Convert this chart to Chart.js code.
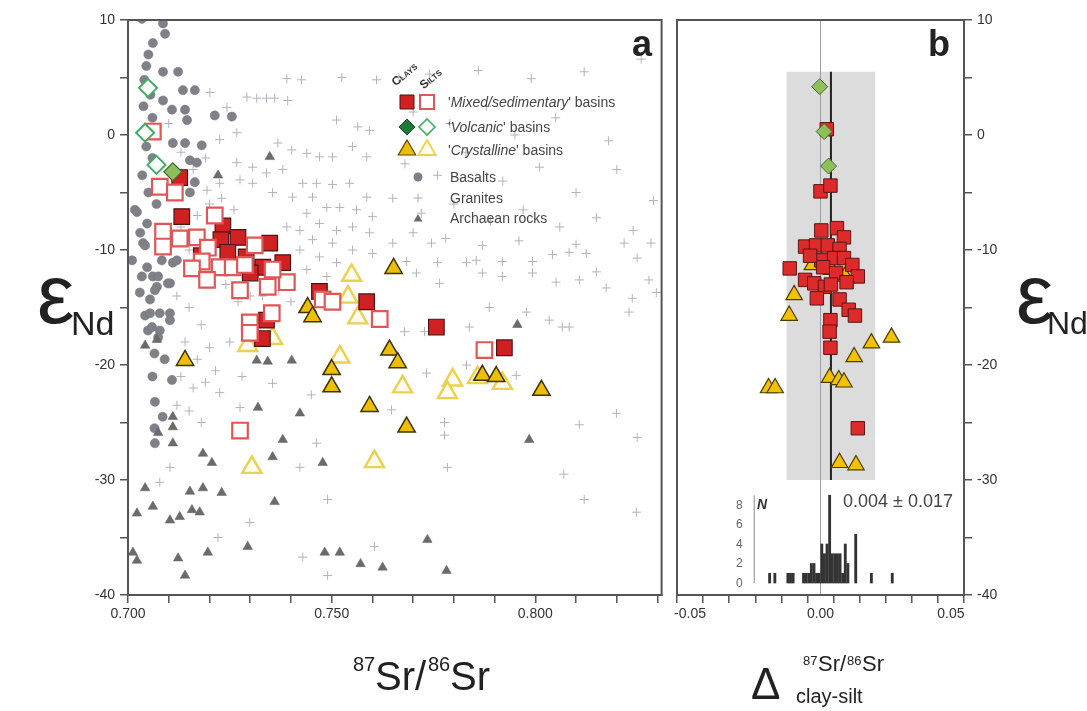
<!DOCTYPE html>
<html><head><meta charset="utf-8">
<script src="https://cdn.jsdelivr.net/npm/chart.js@4.4.1/dist/chart.umd.min.js"></script>
<style>
html,body{margin:0;padding:0;background:#fff;}
body{width:1087px;height:711px;position:relative;overflow:hidden;font-family:"Liberation Sans",Arial,sans-serif;}
canvas{position:absolute;top:0;}
#ca{left:0;width:670px;height:711px;}
#cb{left:630px;width:457px;height:711px;}
.t{position:absolute;white-space:nowrap;line-height:1;color:#333;}
.lg{font-size:14px;color:#444;}
.it{font-style:italic;}
.rot{font-size:12px;font-weight:bold;font-variant:small-caps;transform:rotate(-40deg);transform-origin:0 100%;color:#333;}
</style></head><body>
<canvas id="ca" width="670" height="711"></canvas>
<canvas id="cb" width="457" height="711"></canvas>

<div class="t" style="left:632px;top:26px;font-size:36px;font-weight:bold;color:#222;">a</div>
<div class="t" style="left:928px;top:26px;font-size:36px;font-weight:bold;color:#222;">b</div>

<div class="t rot" style="left:397px;top:76px;">Clays</div>
<div class="t rot" style="left:425px;top:79px;">Silts</div>
<div class="t lg" style="left:448px;top:95px;">'<span class="it">Mixed/sedimentary</span>' basins</div>
<div class="t lg" style="left:448px;top:120px;">'<span class="it">Volcanic</span>' basins</div>
<div class="t lg" style="left:448px;top:143px;">'<span class="it">Crystalline</span>' basins</div>
<div class="t lg" style="left:450px;top:170px;">Basalts</div>
<div class="t lg" style="left:450px;top:191px;">Granites</div>
<div class="t lg" style="left:450px;top:211px;">Archaean rocks</div>

<div class="t" style="left:37px;top:252px;font-size:84px;color:#222;">ε</div>
<div class="t" style="left:71px;top:306px;font-size:34px;color:#222;">Nd</div>
<div class="t" style="left:1016px;top:252px;font-size:84px;color:#222;">ε</div>
<div class="t" style="left:1047px;top:307px;font-size:32px;color:#222;">Nd</div>

<div class="t" style="left:353px;top:654px;font-size:20px;color:#222;">87</div>
<div class="t" style="left:375px;top:656px;font-size:40px;color:#222;">Sr/</div>
<div class="t" style="left:428px;top:654px;font-size:20px;color:#222;">86</div>
<div class="t" style="left:450px;top:656px;font-size:40px;color:#222;">Sr</div>

<div class="t" style="left:751px;top:662px;font-size:44px;color:#222;">Δ</div>
<div class="t" style="left:803px;top:654px;font-size:13px;color:#222;">87</div>
<div class="t" style="left:818px;top:653px;font-size:22px;color:#222;">Sr/</div>
<div class="t" style="left:847px;top:654px;font-size:13px;color:#222;">86</div>
<div class="t" style="left:862px;top:653px;font-size:22px;color:#222;">Sr</div>
<div class="t" style="left:796px;top:686px;font-size:20px;color:#222;">clay-silt</div>

<div class="t" style="left:843px;top:492px;font-size:18px;color:#444;">0.004 ± 0.017</div>
<div class="t" style="left:757px;top:497px;font-size:14px;font-weight:bold;font-style:italic;color:#333;">N</div>
<div class="t" style="left:736px;top:499px;font-size:12px;color:#666;">8</div>
<div class="t" style="left:736px;top:518px;font-size:12px;color:#666;">6</div>
<div class="t" style="left:736px;top:538px;font-size:12px;color:#666;">4</div>
<div class="t" style="left:736px;top:557px;font-size:12px;color:#666;">2</div>
<div class="t" style="left:736px;top:577px;font-size:12px;color:#666;">0</div>

<script>
// ---------- Panel a data (87Sr/86Sr vs eNd) ----------
const sedClays = [[0.7127,-3.7],[0.7132,-7.1],[0.7233,-7.9],[0.7228,-9.1],[0.7270,-8.9],[0.7348,-9.4],[0.7331,-11.5],[0.7380,-11.1],[0.7290,-10.6],[0.7245,-10.2],[0.7300,-12.0],[0.7470,-13.6],[0.7586,-14.5],[0.7757,-16.7],[0.7924,-18.5],[0.7340,-16.1],[0.7330,-17.7],[0.7180,-10.5]];
const sedSilts = [[0.7061,0.3],[0.7078,-4.5],[0.7115,-5.0],[0.7213,-7.0],[0.7086,-8.4],[0.7086,-9.7],[0.7127,-9.0],[0.7169,-8.9],[0.7196,-9.8],[0.7311,-9.6],[0.7181,-11.0],[0.7225,-11.5],[0.7257,-11.5],[0.7287,-11.3],[0.7157,-11.6],[0.7194,-12.6],[0.7275,-13.5],[0.7343,-13.2],[0.7390,-12.8],[0.7355,-11.7],[0.7478,-14.3],[0.7502,-14.5],[0.7618,-16.0],[0.7875,-18.7],[0.7353,-15.5],[0.7299,-16.3],[0.7299,-17.2],[0.7275,-25.7]];
const volcClays = [[0.7110,-3.2]];
const volcSilts = [[0.7049,4.1],[0.7042,0.2],[0.7070,-2.6]];
const crysClays = [[0.7140,-19.6],[0.7652,-11.6],[0.7441,-15.0],[0.7453,-15.8],[0.7642,-18.7],[0.7662,-19.8],[0.7500,-20.4],[0.7500,-21.9],[0.7593,-23.6],[0.7684,-25.4],[0.7870,-20.9],[0.7904,-21.0],[0.8015,-22.2]];
const crysSilts = [[0.7549,-12.2],[0.7540,-14.1],[0.7564,-15.9],[0.7520,-19.3],[0.7674,-21.9],[0.7797,-21.3],[0.7784,-22.4],[0.7858,-21.1],[0.7919,-21.6],[0.7605,-28.4],[0.7304,-28.9],[0.7355,-17.7],[0.7294,-18.3]];
const basalts = [[0.7034,10.1],[0.7086,9.7],[0.7091,8.8],[0.7061,8.0],[0.7050,7.0],[0.7086,5.5],[0.7123,5.5],[0.7135,3.9],[0.7164,3.9],[0.7213,1.7],[0.7255,1.6],[0.7086,3.0],[0.7108,2.2],[0.7140,2.2],[0.7145,1.3],[0.7110,-0.7],[0.7140,-0.7],[0.7181,-0.9],[0.7152,-2.2],[0.7169,-2.4],[0.7164,-4.1],[0.7152,-5.0],[0.7017,-6.5],[0.7047,-7.7],[0.7037,-9.4],[0.7047,-11.5],[0.7110,-11.1],[0.7061,-12.3],[0.7071,-13.2],[0.7103,-12.9],[0.7029,-13.7],[0.7054,-14.3],[0.7042,-15.7],[0.7078,-15.5],[0.7103,-15.5],[0.7049,-17.0],[0.7078,-17.0],[0.7108,-21.3],[0.7066,-23.2],[0.7066,-26.8],[0.7022,-6.7],[0.7042,-9.6],[0.7120,-10.9],[0.7083,-10.9],[0.7034,-12.3],[0.7074,-12.3],[0.7066,-13.5],[0.7098,-12.9],[0.7054,-15.5],[0.7103,-16.1],[0.7059,-16.7],[0.7074,-17.6],[0.7010,-10.9],[0.7045,6.0],[0.7040,4.8],[0.7055,3.5],[0.7038,2.5],[0.7060,1.5],[0.7045,-1.0],[0.7060,-2.0],[0.7035,-3.5],[0.7050,-5.0],[0.7070,-6.0],[0.7030,-8.5],[0.7065,-19.0],[0.7090,-19.5],[0.7060,-21.0],[0.7085,-24.5],[0.7065,-25.5]];
const granites = [[0.7390,4.9],[0.7426,4.8],[0.7525,5.0],[0.7610,4.8],[0.7292,3.3],[0.7316,3.2],[0.7340,3.2],[0.7360,3.2],[0.7392,3.0],[0.7201,3.7],[0.7243,2.4],[0.7512,1.3],[0.7564,0.7],[0.7593,0.4],[0.7267,0.2],[0.7225,-0.4],[0.7368,-0.7],[0.7402,-1.3],[0.7439,-1.6],[0.7470,-1.9],[0.7502,-1.9],[0.7551,-1.0],[0.7586,-1.9],[0.7267,-2.4],[0.7306,-2.8],[0.7340,-3.3],[0.7380,-3.0],[0.7429,-4.2],[0.7463,-4.2],[0.7502,-4.3],[0.7544,-4.2],[0.7586,-5.4],[0.7225,-4.2],[0.7194,-4.8],[0.7275,-3.9],[0.7306,-4.2],[0.7355,-5.0],[0.7404,-5.4],[0.7453,-5.4],[0.7488,-6.3],[0.7520,-6.3],[0.7561,-6.5],[0.7600,-7.1],[0.7439,-6.8],[0.7470,-7.7],[0.7512,-8.3],[0.7551,-8.0],[0.7593,-8.5],[0.7422,-8.3],[0.7390,-8.0],[0.7453,-9.1],[0.7502,-9.4],[0.7551,-10.0],[0.7600,-10.3],[0.7422,-10.0],[0.7470,-10.6],[0.7512,-11.1],[0.7439,-11.7],[0.7488,-12.3],[0.7551,-12.0],
[0.7650,-9.4],[0.7745,-9.4],[0.7870,-9.6],[0.8218,-9.4],[0.8284,-9.4],[0.8250,-10.7],[0.7684,-11.0],[0.7760,-11.1],[0.7831,-11.1],[0.7855,-10.9],[0.7919,-11.0],[0.7993,-11.0],[0.8042,-10.4],[0.8083,-10.2],[0.8125,-10.3],[0.7708,-12.0],[0.7765,-12.9],[0.7870,-12.0],[0.7919,-12.3],[0.7993,-12.0],[0.8051,-12.8],[0.8108,-12.6],[0.8150,-11.9],[0.8174,-13.3],[0.8279,-12.6],[0.8297,-13.7],[0.8238,-14.2],[0.8230,-15.4],[0.7887,-15.0],[0.7978,-15.4],[0.8034,-16.1],[0.8066,-16.7],[0.8083,-16.7],[0.7838,-16.7],[0.7679,-17.1],[0.7728,-17.1],[0.7831,-20.0],[0.7953,-20.9],[0.7733,-20.7],[0.7647,-23.9],[0.7777,-25.0],[0.7777,-26.1],[0.8108,-25.2],[0.8199,-24.2],[0.8250,-26.3],[0.7784,-28.9],
[0.7665,5.0],[0.7740,5.3],[0.7860,5.6],[0.7990,4.9],[0.8120,5.5],[0.8260,6.6],[0.7700,2.0],[0.7790,1.0],[0.7880,2.5],[0.7950,0.0],[0.8050,1.5],[0.8180,-0.5],[0.7680,-2.5],[0.7760,-3.5],[0.7830,-1.5],[0.7920,-4.0],[0.8010,-2.8],[0.8100,-5.0],[0.8200,-3.0],[0.8290,-5.7],[0.7650,-5.5],[0.7720,-6.8],[0.7800,-6.0],[0.7890,-7.5],[0.7970,-6.5],[0.8060,-8.0],[0.8150,-7.2],[0.8240,-8.3],[0.7700,-8.5],[0.7780,-9.0],[0.7960,-9.2],[0.8100,-9.5],
[0.7120,-14.0],[0.7150,-15.0],[0.7180,-16.5],[0.7140,-18.0],[0.7170,-19.5],[0.7200,-18.5],[0.7130,-21.0],[0.7160,-22.0],[0.7190,-21.5],[0.7120,-23.5],[0.7150,-24.0],[0.7180,-25.0],[0.7215,-20.5],[0.7250,-18.0],[0.7280,-21.0],[0.7103,-28.9],[0.7078,-30.2],[0.7299,-33.7],[0.7221,-35.0],[0.7429,-36.7],[0.7490,-38.3],[0.7490,-31.7],[0.7463,-26.8],[0.7422,-28.9],[0.7355,-21.6],[0.7450,-22.6],[0.7605,-35.8],[0.7275,-23.7],[0.7225,-22.4],[0.8070,-29.5],[0.8120,-31.7],[0.8248,-32.8],
[0.7100,1.0],[0.7130,-1.5],[0.7160,-3.0],[0.7190,-2.0],[0.7200,-6.0],[0.7170,-7.0],[0.7230,-5.5],[0.7260,-6.5],[0.7130,-8.0],[0.7150,-10.0],[0.7200,-11.0],[0.7240,-13.0],[0.7270,-14.5],[0.7300,-14.0],[0.7330,-14.0],[0.7370,-13.5],[0.7400,-14.5],[0.7350,-12.5]];
const archaean = [[0.7348,-1.9],[0.7221,-3.5],[0.7042,-18.3],[0.7071,-17.8],[0.7110,-24.5],[0.7110,-25.4],[0.7074,-25.9],[0.7110,-26.8],[0.7184,-27.7],[0.7206,-28.5],[0.7316,-19.6],[0.7343,-19.7],[0.7402,-19.6],[0.7319,-23.7],[0.7422,-24.2],[0.7380,-26.5],[0.7355,-28.0],[0.7478,-28.5],[0.7042,-30.7],[0.7152,-31.0],[0.7184,-30.7],[0.7230,-31.1],[0.7061,-32.3],[0.7022,-32.9],[0.7103,-33.5],[0.7127,-33.2],[0.7157,-32.6],[0.7176,-32.8],[0.7360,-31.9],[0.7012,-36.3],[0.7022,-37.0],[0.7123,-36.8],[0.7140,-38.3],[0.7196,-36.3],[0.7294,-35.8],[0.7483,-36.3],[0.7956,-16.5],[0.7985,-26.5],[0.7520,-36.3],[0.7571,-37.3],[0.7625,-37.6],[0.7735,-35.2],[0.7782,-37.9]];

// ---------- Panel b data (Delta 87Sr/86Sr clay-silt vs eNd) ----------
const dSed = [[0.0024,0.5],[0.0000,-4.9],[0.0038,-4.4],[0.0003,-8.3],[0.0063,-8.1],[0.0090,-8.9],[-0.0059,-9.7],[-0.0017,-9.6],[0.0028,-9.6],[0.0073,-9.9],[0.0003,-10.9],[0.0052,-10.7],[0.0090,-10.7],[0.0122,-11.3],[-0.0118,-11.6],[0.0010,-11.5],[0.0143,-12.3],[-0.0059,-12.6],[-0.0024,-12.9],[0.0017,-13.2],[-0.0014,-14.2],[0.0073,-14.3],[0.0108,-15.2],[0.0132,-15.7],[0.0038,-16.1],[0.0035,-17.1],[0.0038,-18.5],[0.0143,-25.5],[-0.0040,-10.5],[0.0060,-12.0],[0.0100,-12.8],[0.0040,-13.0]];
const dVolc = [[-0.0003,4.2],[0.0014,0.3],[0.0031,-2.7]];
const dCrys = [[-0.0031,-11.3],[0.0042,-11.7],[0.0094,-12.3],[-0.0101,-13.9],[-0.0120,-15.7],[0.0195,-18.1],[0.0272,-17.6],[0.0129,-19.3],[0.0035,-21.1],[0.0070,-21.3],[0.0090,-21.5],[-0.0199,-22.0],[-0.0174,-22.0],[0.0073,-28.5],[0.0136,-28.7]];
const histBins = [-0.0195,-0.0175,-0.0125,-0.0115,-0.0105,-0.0065,-0.0055,-0.0045,-0.0035,-0.0025,-0.0015,-0.0005,0.0005,0.0015,0.0025,0.0035,0.0045,0.0055,0.0065,0.0075,0.0085,0.0095,0.0105,0.0135,0.0195,0.0275];
const histCounts = [1,1,1,1,1,1,1,1,2,2,1,1,4,3,4,9,3,3,3,3,1,4,2,5,1,1];
const meanDelta = 0.004, sdDelta = 0.017;
const boxTop = 5.5, boxBottom = -30;

// ---------- helpers ----------
const pts = a => a.map(p => ({x:p[0], y:p[1]}));
const FONT = {family:'"Liberation Sans", Arial, sans-serif', size:14};
function ds(label, arr, style, order, extra){
  return Object.assign({type:'scatter', label, data:pts(arr), showLine:false, order,
    pointStyle:style.ps, pointRadius:style.r, pointHoverRadius:style.r,
    backgroundColor:style.bg, borderColor:style.bc, borderWidth:style.bw}, extra||{});
}
function shape(ctx, kind, x, y, r, fill, stroke, lw){
  ctx.save(); ctx.beginPath();
  if(kind==='rect'){ ctx.rect(x-r, y-r, 2*r, 2*r); }
  else if(kind==='diamond'){ ctx.moveTo(x,y-r); ctx.lineTo(x+r,y); ctx.lineTo(x,y+r); ctx.lineTo(x-r,y); ctx.closePath(); }
  else if(kind==='tri'){ ctx.moveTo(x,y-r); ctx.lineTo(x+r*0.87,y+r*0.5); ctx.lineTo(x-r*0.87,y+r*0.5); ctx.closePath(); }
  else if(kind==='circle'){ ctx.arc(x,y,r,0,Math.PI*2); }
  else if(kind==='plus'){ ctx.moveTo(x-r,y); ctx.lineTo(x+r,y); ctx.moveTo(x,y-r); ctx.lineTo(x,y+r); }
  if(fill && kind!=='plus'){ ctx.fillStyle=fill; ctx.fill(); }
  if(stroke){ ctx.strokeStyle=stroke; ctx.lineWidth=lw; ctx.stroke(); }
  ctx.restore();
}
const frame = {
  id:'frame',
  afterDraw(chart){
    const a = chart.chartArea, c = chart.ctx;
    c.save(); c.strokeStyle='#555'; c.lineWidth=2; c.strokeRect(a.left, a.top, a.right-a.left, a.bottom-a.top); c.restore();
  }
};
const legendA = {
  id:'legendA',
  afterDraw(chart){
    const c = chart.ctx;
    shape(c,'rect',407,102,7,'#cf2121','#4d1414',1);
    shape(c,'rect',427,102,7,'#fff','#e05656',2);
    shape(c,'diamond',407,127,8,'#1f7a3a','#145028',1);
    shape(c,'diamond',427,127,8,'#fff','#3fae66',1.6);
    shape(c,'tri',407,150,10,'#eebf00','#5a4800',1.2);
    shape(c,'tri',427,150,10,'#fffdf0','#efd24a',1.8);
    shape(c,'circle',418,177,4.5,'#7d7f86',null,0);
    shape(c,'plus',418,198,4.5,null,'#aaaab2',1);
    shape(c,'tri',418,219,5,'#6b6b6b',null,0);
  }
};
function axisCommon(){
  return {
    grid:{drawOnChartArea:false, drawTicks:true, tickLength:8, color:'#555', lineWidth:1.5},
    border:{display:true, color:'#555', width:2}
  };
}
const fitX = s => { s.height = 116; s.paddingLeft = 0; s.paddingRight = 0; };
const fitY = w => s => { s.width = w; s.paddingTop = 0; s.paddingBottom = 0; };

// ---------- Chart a ----------
function configA(){
  return {
  type:'scatter',
  data:{datasets:[
    ds('Granites', granites, {ps:'cross', r:4.5, bg:'#b3b3bb', bc:'#b3b3bb', bw:1}, 10),
    ds('Basalts', basalts, {ps:'circle', r:4.6, bg:'#808088', bc:'#74767d', bw:0.5}, 9),
    ds('Archaean rocks', archaean, {ps:'triangle', r:5.5, bg:'#6b6b6b', bc:'#5f5f5f', bw:0.5}, 8),
    ds("'Crystalline' basins (silts)", crysSilts, {ps:'triangle', r:11, bg:'#fffdf0', bc:'#ecd050', bw:2.4}, 7),
    ds("'Crystalline' basins (clays)", crysClays, {ps:'triangle', r:10, bg:'#eebf00', bc:'#3d3300', bw:1.5}, 6),
    ds("'Mixed/sedimentary' basins (clays)", sedClays, {ps:'rect', r:11, bg:'#cf2121', bc:'#4d1414', bw:1.2}, 5),
    ds("'Mixed/sedimentary' basins (silts)", sedSilts, {ps:'rect', r:11, bg:'#ffffff', bc:'#e05656', bw:2.2}, 4),
    ds("'Volcanic' basins (silts)", volcSilts, {ps:'rectRot', r:9, bg:'#ffffff', bc:'#3fae66', bw:2}, 3),
    ds("'Volcanic' basins (clays)", volcClays, {ps:'rectRot', r:9, bg:'#8cbf5a', bc:'#3a6a2a', bw:1.2}, 2)
  ]},
  options:{
    responsive:false, animation:false, events:[],
    layout:{padding:{top:20, right:8, left:0, bottom:0}},
    plugins:{legend:{display:false}, tooltip:{enabled:false}},
    scales:{
      x:Object.assign({type:'linear', min:0.7, max:0.831,
        ticks:{stepSize:0.01, includeBounds:false, autoSkip:false, maxRotation:0, color:'#333', font:FONT, padding:3,
          callback:v=>{const m=Math.round(v*1000); return m%50===0 ? (m/1000).toFixed(3) : '';}},
        afterFit:fitX}, axisCommon()),
      y:Object.assign({type:'linear', min:-40, max:10,
        ticks:{stepSize:5, autoSkip:false, color:'#333', font:FONT, padding:5,
          callback:v=>{const m=Math.round(v); return m%10===0 ? String(m) : '';}},
        afterFit:fitY(128)}, axisCommon())
    }
  },
  plugins:[frame, legendA]
  };
}

// ---------- Chart b ----------
const bgB = {
  id:'bgB',
  beforeDatasetsDraw(chart){
    const c = chart.ctx, xs = chart.scales.x, ys = chart.scales.y, a = chart.chartArea;
    const x1 = xs.getPixelForValue(meanDelta - sdDelta), x2 = xs.getPixelForValue(meanDelta + sdDelta);
    const y1 = ys.getPixelForValue(boxTop), y2 = ys.getPixelForValue(boxBottom);
    c.save();
    c.fillStyle='#dcdcdc'; c.fillRect(x1, y1, x2-x1, y2-y1);
    const x0 = xs.getPixelForValue(0);
    c.strokeStyle='#9c9ca4'; c.lineWidth=1; c.beginPath(); c.moveTo(x0, a.top); c.lineTo(x0, a.bottom); c.stroke();
    const xm = xs.getPixelForValue(meanDelta);
    c.strokeStyle='#222'; c.lineWidth=2; c.beginPath(); c.moveTo(xm, y1); c.lineTo(xm, y2); c.stroke();
    const yn = chart.scales.yN, xa = xs.getPixelForValue(-0.0254);
    c.strokeStyle='#888'; c.lineWidth=1; c.beginPath(); c.moveTo(xa, yn.getPixelForValue(0)); c.lineTo(xa, yn.getPixelForValue(9)); c.stroke();
    c.restore();
  }
};
function configB(){
  return {
  type:'scatter',
  data:{datasets:[
    {type:'bar', label:'N', data:histBins.map((b,i)=>({x:b, y:histCounts[i]})), xAxisID:'x', yAxisID:'yN',
      backgroundColor:'#333', borderWidth:0, barThickness:2.2, grouped:false, order:20},
    ds("'Crystalline' basins", dCrys, {ps:'triangle', r:9.5, bg:'#f2c200', bc:'#4a3c00', bw:1.2}, 5, {yAxisID:'y'}),
    ds("'Mixed/sedimentary' basins", dSed, {ps:'rect', r:9.5, bg:'#dd2b2b', bc:'#5a1515', bw:1}, 4, {yAxisID:'y'}),
    ds("'Volcanic' basins", dVolc, {ps:'rectRot', r:8, bg:'#8dc05c', bc:'#4a6a2a', bw:1}, 3, {yAxisID:'y'})
  ]},
  options:{
    responsive:false, animation:false, events:[],
    layout:{padding:{top:20, right:0, left:47, bottom:0}},
    plugins:{legend:{display:false}, tooltip:{enabled:false}},
    scales:{
      x:Object.assign({type:'linear', min:-0.05, max:0.05,
        ticks:{stepSize:0.01, autoSkip:false, maxRotation:0, color:'#333', font:FONT, padding:3,
          callback:v=>{const m=Math.round(v*100); return m%5===0 ? (m/100).toFixed(2) : '';}},
        afterFit:fitX}, axisCommon()),
      y:Object.assign({type:'linear', position:'right', min:-40, max:10,
        ticks:{stepSize:5, autoSkip:false, color:'#333', font:FONT, padding:5,
          callback:v=>{const m=Math.round(v); return m%10===0 ? String(m) : '';}},
        afterFit:fitY(123)}, axisCommon()),
      yN:{type:'linear', display:false, min:-1.23, max:57.74}
    }
  },
  plugins:[bgB, frame]
  };
}

// build charts, then correct canvas geometry so plot areas land where the figure has them
function place(id, cssLeft, width, build, wantLeft, wantRight){
  const cv = document.getElementById(id);
  let ch = new Chart(cv, build());
  const aLeft = cssLeft + ch.chartArea.left, aRight = cssLeft + ch.chartArea.right;
  const shift = wantLeft - aLeft;
  const grow = (wantRight - wantLeft) - (aRight - aLeft);
  if (Math.abs(shift) >= 0.5 || Math.abs(grow) >= 0.5) {
    ch.destroy();
    const w = Math.round(width + grow);
    cv.width = w; cv.height = 711;
    cv.style.width = w + 'px'; cv.style.height = '711px';
    cv.style.left = Math.round(cssLeft + shift) + 'px';
    ch = new Chart(cv, build());
  }
  return ch;
}
place('ca', 0, 670, configA, 128, 662);
place('cb', 630, 457, configB, 677, 964);
</script>
</body></html>
